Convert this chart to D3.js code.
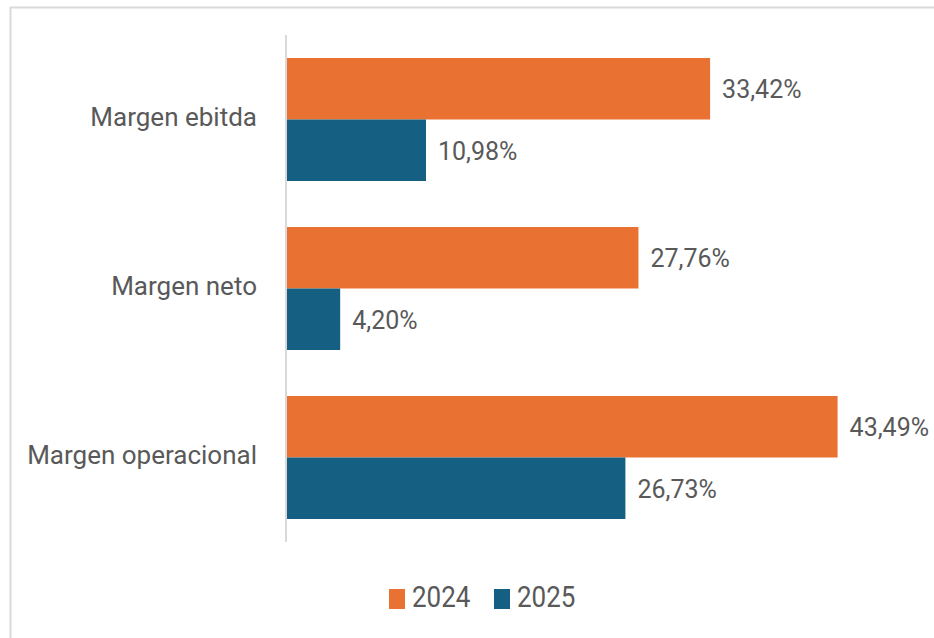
<!DOCTYPE html>
<html>
<head>
<meta charset="utf-8">
<script src="https://cdn.jsdelivr.net/npm/d3@7"></script>
<style>
  html, body { margin: 0; padding: 0; background: #fff; }
  svg text { font-family: Roboto, "Liberation Sans", sans-serif; fill: #595959; }
</style>
</head>
<body>
<div id="chart"></div>
<script>
// data
const categories = ["Margen ebitda", "Margen neto", "Margen operacional"];
const seriesNames = ["2024", "2025"];
const values2024 = [0.3342, 0.2776, 0.4349];
const values2025 = [0.1098, 0.0420, 0.2673];
const seriesColors = ["#E97132", "#156082"];

const W = 934, H = 638;

const svg = d3.select("#chart").append("svg")
    .attr("width", W)
    .attr("height", H);

// chart frame (cut at right and bottom edges)
svg.append("rect")
    .attr("x", 10.5).attr("y", 7.5)
    .attr("width", W + 20).attr("height", H + 20)
    .attr("fill", "none")
    .attr("stroke", "#d9d9d9")
    .attr("stroke-width", 2);

const rows = categories.map(function(c, i) {
    return { cat: c, vals: [values2024[i], values2025[i]] };
});

const x = d3.scaleLinear()
    .domain([0, 0.5])
    .range([287, 920]);

const y0 = d3.scaleBand()
    .domain(categories)
    .range([35, 542])
    .padding(0);

const y1 = d3.scaleBand()
    .domain(seriesNames)
    .range([0, y0.bandwidth()])
    .paddingInner(0)
    .paddingOuter(0.374);

const fmt = function(v) {
    return (v * 100).toFixed(2).replace(".", ",") + "%";
};

// text in the picture is a bit taller than wide, so stretch it
function addText(g, tx, ty, str, size, anchor, stretch) {
    return g.append("text")
        .attr("transform", "translate(" + tx + "," + ty + ") scale(1," + stretch + ")")
        .attr("font-size", size)
        .attr("text-anchor", anchor)
        .text(str);
}

// bars
const groups = svg.selectAll(".cat")
    .data(rows)
    .enter().append("g")
    .attr("class", "cat")
    .attr("transform", function(d) { return "translate(0," + y0(d.cat) + ")"; });

groups.selectAll("rect")
    .data(function(d) {
        return d.vals.map(function(v, i) { return { key: seriesNames[i], v: v, i: i }; });
    })
    .enter().append("rect")
    .attr("x", x(0))
    .attr("y", function(d) { return y1(d.key); })
    .attr("width", function(d) { return x(d.v) - x(0); })
    .attr("height", y1.bandwidth())
    .attr("fill", function(d) { return seriesColors[d.i]; });

// value labels + category labels
groups.each(function(d) {
    const g = d3.select(this);
    d.vals.forEach(function(v, i) {
        const cy = y1(seriesNames[i]) + y1.bandwidth() / 2;
        addText(g, x(v) + 12, cy + 9.5, fmt(v), 25, "start", 1.06);
    });
    addText(g, 257, y0.bandwidth() / 2 + 6, d.cat, 26, "end", 1.0);
});

// axis line
svg.append("line")
    .attr("x1", x(0) - 1).attr("x2", x(0) - 1)
    .attr("y1", 35).attr("y2", 542)
    .attr("stroke", "#d9d9d9")
    .attr("stroke-width", 2);

// legend
const legend = svg.append("g").attr("class", "legend");
const legendX = [389, 494];
seriesNames.forEach(function(s, i) {
    legend.append("rect")
        .attr("x", legendX[i]).attr("y", 589)
        .attr("width", 16).attr("height", 20)
        .attr("fill", seriesColors[i]);
    addText(legend, legendX[i] + 23, 607, s, 26, "start", 1.1);
});
</script>
</body>
</html>
